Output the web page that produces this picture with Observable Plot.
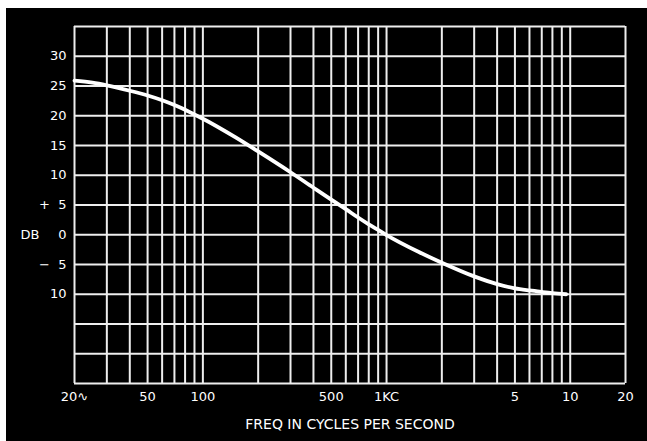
<!DOCTYPE html>
<html><head><meta charset="utf-8">
<script src="https://cdn.jsdelivr.net/npm/d3@7"></script>
<script src="https://cdn.jsdelivr.net/npm/@observablehq/plot@0.6"></script>
<style>
html,body{margin:0;padding:0;background:#fff;}
#chart{position:absolute;left:6px;top:8px;width:641px;height:433px;background:#000;}
</style></head><body><div id="chart"></div>
<script>
const freq = [20, 25, 30, 40, 50, 60, 70, 80, 90, 100, 150, 200, 300, 400, 500, 600, 700, 800, 900, 1000, 1500, 2000, 3000, 4000, 5000, 6000, 7000, 8000, 9500];
const db   = [25.9, 25.55, 25.1, 24.2, 23.4, 22.6, 21.8, 21.0, 20.2, 19.5, 16.4, 14.0, 10.5, 7.9, 5.9, 4.3, 2.9, 1.75, 0.8, -0.05, -2.9, -4.7, -7.0, -8.3, -9.0, -9.35, -9.6, -9.8, -10.0];
const freqGrid = [20, 30, 40, 50, 60, 70, 80, 90, 100, 200, 300, 400, 500, 600, 700, 800, 900, 1000, 2000, 3000, 4000, 5000, 6000, 7000, 8000, 9000, 10000, 20000];
const dbGrid = [35, 30, 25, 20, 15, 10, 5, 0, -5, -10, -15, -20, -25];
const xTicks = [20, 50, 100, 500, 1000, 5000, 10000, 20000];
const xTickLabels = ["20\u223F", "50", "100", "500", "1KC", "5", "10", "20"];
const yTicks = [30, 25, 20, 15, 10, 5, 0, -5, -10];
const yTickLabels = ["30", "25", "20", "15", "10", "+\u00a0\u00a05", "0", "\u2212\u00a0\u00a05", "10"];
const yUnit = "DB";
const xTitle = "FREQ IN CYCLES PER SECOND";

const curve = freq.map((f, i) => ({f, v: db[i]}));
const xLabelRows = xTicks.map((v, i) => ({v, label: xTickLabels[i]}));

const chart = Plot.plot({
  width: 641,
  height: 433,
  marginLeft: 68,
  marginTop: 18,
  marginRight: 22,
  marginBottom: 58,
  x: {type: "log", domain: [20, 20000], axis: null},
  y: {domain: [-25, 35]},
  style: {background: "#000", color: "#fff", fontFamily: "DejaVu Sans", fontSize: "13px"},
  marks: [
    Plot.ruleX(freqGrid, {x: d => d, stroke: "#eee", strokeWidth: 2}),
    Plot.ruleY(dbGrid, {y: d => d, stroke: "#eee", strokeWidth: 2}),
    Plot.line(curve, {x: "f", y: "v", curve: "monotone-x", stroke: "#fff", strokeWidth: 3.8, strokeLinecap: "round"}),
    Plot.text(xLabelRows, {x: "v", text: "label", frameAnchor: "bottom", dy: 17, fill: "#fff", fontSize: 13}),
    Plot.axisY({ticks: yTicks, tickFormat: d => yTickLabels[yTicks.indexOf(d)], tickSize: 0, tickPadding: 8, label: null}),
    Plot.text([yUnit], {text: d => d, y: () => 0, frameAnchor: "left", dx: -54, textAnchor: "start", fill: "#fff", fontSize: 13}),
    Plot.text([xTitle], {text: d => d, frameAnchor: "bottom", dy: 45, fill: "#fff", fontSize: 14, style: "letter-spacing:2.8px"})
  ]
});
document.getElementById("chart").appendChild(chart);
</script>
</body></html>
